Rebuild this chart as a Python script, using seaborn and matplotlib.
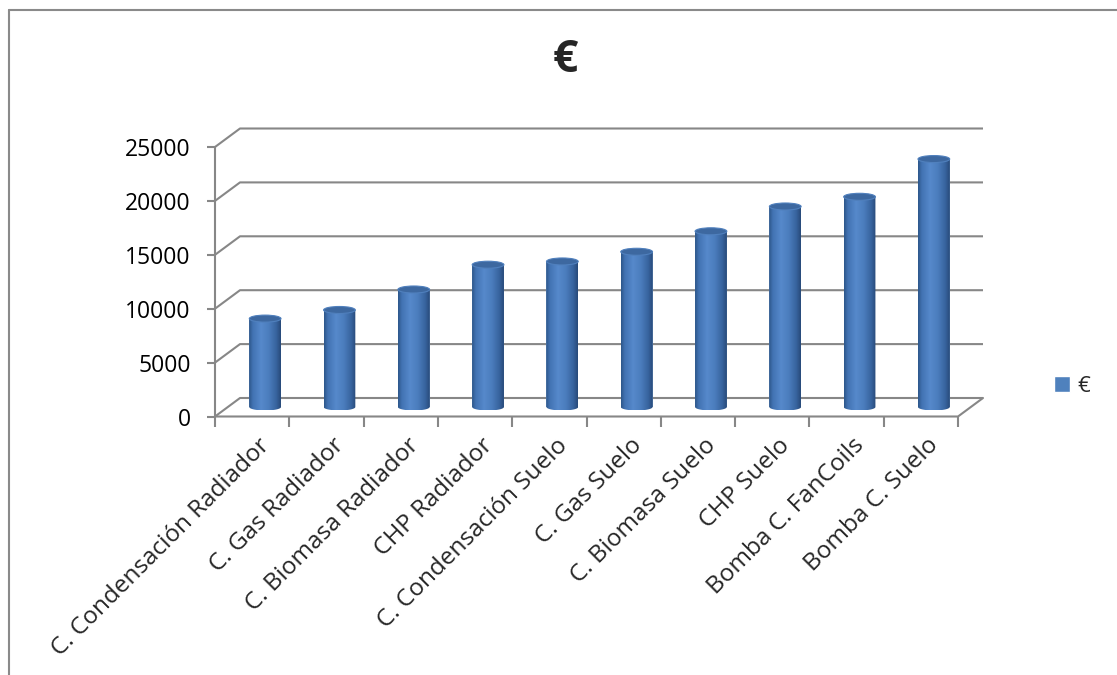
import numpy as np
import matplotlib
matplotlib.use("Agg")
import matplotlib.pyplot as plt
import seaborn as sns
from matplotlib.colors import LinearSegmentedColormap
from matplotlib.patches import Ellipse, PathPatch, Patch
from matplotlib.path import Path
from matplotlib.lines import Line2D
from matplotlib.transforms import ScaledTranslation, blended_transform_factory

# Heating system cost comparison (€)
categories = [
    "C. Condensación Radiador",
    "C. Gas Radiador",
    "C. Biomasa Radiador",
    "CHP Radiador",
    "C. Condensación Suelo",
    "C. Gas Suelo",
    "C. Biomasa Suelo",
    "CHP Suelo",
    "Bomba C. FanCoils",
    "Bomba C. Suelo",
]
costs = [8200, 9000, 10900, 13200, 13500, 14400, 16300, 18600, 19500, 23000]
y_ticks = [0, 5000, 10000, 15000, 20000, 25000]
series_name = "€"

sns.set_style("white")
plt.rcParams["font.family"] = ["Open Sans", "DejaVu Sans"]

W, H, DPI = 1117, 675, 100
fig = plt.figure(figsize=(W / DPI, H / DPI), dpi=DPI)

# front plane of the 3-D box, in pixels
x_left, x_right = 215, 958
y_zero, y_top = 416.5, 147
ax = fig.add_axes([x_left / W, (H - y_zero) / H,
                   (x_right - x_left) / W, (y_zero - y_top) / H])
ax.patch.set_visible(False)

n = len(categories)
ymax = y_ticks[-1]
px_per_cat = (x_right - x_left) / n
px_per_unit = (y_zero - y_top) / ymax

# depth offsets (back wall and bar mid-plane), converted to data units
DXB, DYB = 25 / px_per_cat, 18.5 / px_per_unit
DXM, DYM = 13 / px_per_cat, 9.5 / px_per_unit

grid_col = "#878787"
grid_lw = 1.5

sns.barplot(x=categories, y=costs, color="#4F81BD", width=0.427,
            ax=ax, zorder=3, edgecolor="none")

# walls: gridlines on side and back walls
for v in y_ticks:
    ax.plot([-0.5, -0.5 + DXB, n - 0.5 + DXB], [v, v + DYB, v + DYB],
            color=grid_col, lw=grid_lw, clip_on=False, zorder=1,
            solid_capstyle="butt")
# floor front edge and right diagonal, front vertical axis
ax.plot([-0.5, n - 0.5, n - 0.5 + DXB], [0, 0, DYB],
        color=grid_col, lw=grid_lw, clip_on=False, zorder=1)
ax.plot([-0.5, -0.5], [0, ymax], color=grid_col, lw=grid_lw,
        clip_on=False, zorder=5)

# cylinder shading
cyl_cmap = LinearSegmentedColormap.from_list(
    "cyl", [(0.0, "#2c5689"), (0.12, "#4273b3"), (0.38, "#5689cb"),
            (0.62, "#4b7dbd"), (0.85, "#38649f"), (1.0, "#284a79")])
grad = np.linspace(0, 1, 256)[None, :]
eh = 7 / px_per_unit  # ellipse height of cylinder caps

for p in ax.patches:
    p.set_x(p.get_x() + DXM)
    p.set_y(DYM)
    x0, w, h = p.get_x(), p.get_width(), p.get_height()
    cx, y0 = x0 + w / 2, p.get_y()
    ytop = y0 + h
    th = np.linspace(np.pi, 2 * np.pi, 60)
    verts = list(zip(cx + w / 2 * np.cos(th), y0 + eh / 2 * np.sin(th)))
    verts += [(cx + w / 2, ytop), (cx - w / 2, ytop), verts[0]]
    codes = [Path.MOVETO] + [Path.LINETO] * (len(verts) - 2) + [Path.CLOSEPOLY]
    body = PathPatch(Path(verts, codes), transform=ax.transData)
    im = ax.imshow(grad, cmap=cyl_cmap, aspect="auto", interpolation="bilinear",
                   extent=[x0, x0 + w, y0 - eh / 2, ytop], zorder=3.5)
    im.set_clip_path(body)
    ax.add_patch(Ellipse((cx, ytop), w, eh, facecolor="#3d68a0",
                         edgecolor="#5080bd", lw=0.8, zorder=4))

ax.set_xlim(-0.5, n - 0.5)
ax.set_ylim(0, ymax)
sns.despine(ax=ax, left=True, bottom=True)

# axis ticks
ax.set_yticks(y_ticks)
ax.set_yticklabels([str(v) for v in y_ticks], fontsize=16.5, color="black")
ax.set_xticks(np.arange(-0.5, n, 1))
ax.set_xticklabels([])
ax.tick_params(axis="y", direction="out", length=5.5, width=grid_lw,
               color=grid_col, pad=12, left=True)
ax.tick_params(axis="x", direction="out", length=7, width=grid_lw,
               color=grid_col, bottom=True)
ax.set_xlabel("")
ax.set_ylabel("")

# rotated category labels
lab_trans = blended_transform_factory(ax.transData, ax.transAxes) + \
    ScaledTranslation(6 / DPI, -17 / DPI, fig.dpi_scale_trans)
for i, cat in enumerate(categories):
    ax.text(i, 0, cat, transform=lab_trans, rotation=45,
            rotation_mode="anchor", ha="right", va="top", fontsize=17.5)

fig.text(565 / W, 1 - 60 / H, series_name, ha="center", va="center",
         fontsize=32, fontweight="bold")

fig.legend(handles=[Patch(facecolor="#4F81BD", label=series_name)],
           loc="center left", bbox_to_anchor=(1054 / W, 1 - 386 / H),
           frameon=False, fontsize=16, handlelength=0.7, handleheight=0.7,
           handletextpad=0.35, borderaxespad=0, borderpad=0)

# chart area border
fig.add_artist(Line2D([9 / W, 1], [1 - 9.5 / H] * 2, transform=fig.transFigure,
                      color="#8a8a8a", lw=1.5))
fig.add_artist(Line2D([9 / W] * 2, [0, 1 - 9.5 / H], transform=fig.transFigure,
                      color="#8a8a8a", lw=1.5))

fig.savefig("out.png", dpi=DPI)
